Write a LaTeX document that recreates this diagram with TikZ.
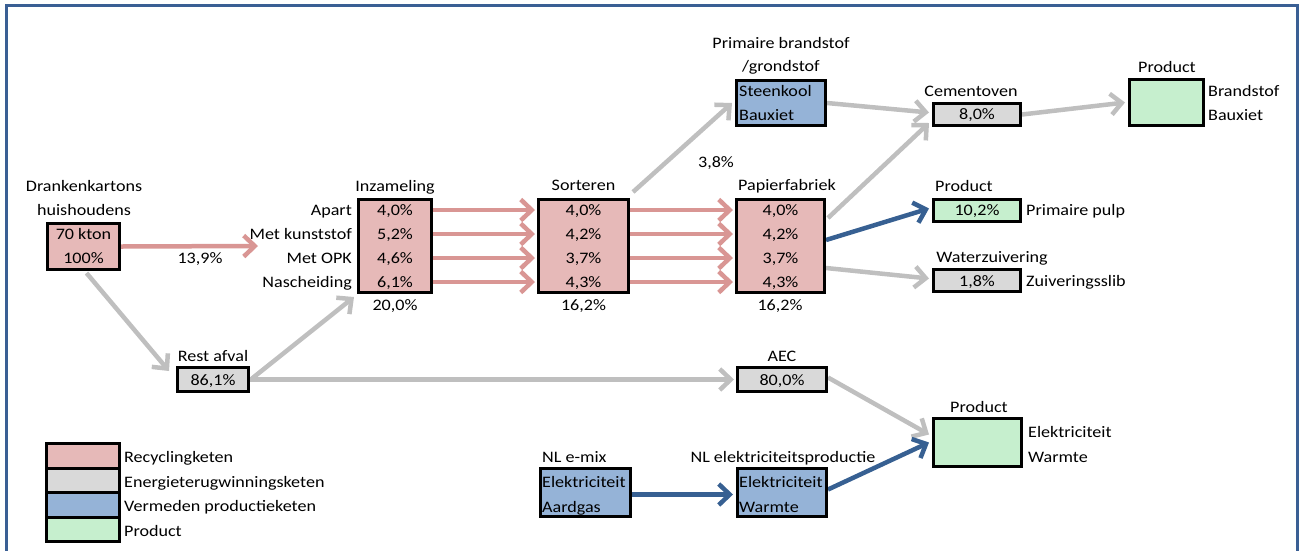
\documentclass[tikz,border=0pt]{standalone}
\usepackage{fontspec}
\setmainfont{Carlito}[FakeStretch=1.13]
\usetikzlibrary{arrows.meta,calc,backgrounds}
\definecolor{redfill}{HTML}{E6B9B8}
\definecolor{grayfill}{HTML}{D9D9D9}
\definecolor{bluefill}{HTML}{95B3D7}
\definecolor{greenfill}{HTML}{C6EFCE}
\definecolor{redline}{HTML}{D99694}
\definecolor{grayline}{HTML}{BFBFBF}
\definecolor{blueline}{HTML}{376092}
\definecolor{framec}{HTML}{3A5F94}
\begin{document}
\begin{tikzpicture}[x=1pt,y=-1pt,
  box/.style={draw=black, line width=3pt, inner sep=0pt, rectangle},
  t/.style={inner sep=0pt, text height=10pt, text depth=0pt, font=\fontsize{16}{18}\selectfont},
  tl/.style={t, anchor=west},
  tr/.style={t, anchor=east},
  arr/.style={line width=4.5pt, -{Straight Barb[length=11pt,width=21pt]}},
  ga/.style={arr, draw=grayline},
  ra/.style={arr, draw=redline},
  ba/.style={arr, draw=blueline},
]
\useasboundingbox (0,0) rectangle (1302,550);
\draw[framec, line width=3pt] (6.7,552) -- (6.7,5.7) -- (1297.3,5.7) -- (1297.3,552);

% Drankenkartons
\node[box, fill=redfill, minimum width=72, minimum height=46] (dk) at (83.5,246.5) {};
\node[t] (dkt1) at (84,186) {Drankenkartons};
\node[t] (dkt2) at (84,210) {huishoudens};
\node[t] (dkv1) at (83.5,234) {70 kton};
\node[t] (dkv2) at (83.5,258) {100\%};
\coordinate (dkend) at (258,246);
\node[t] (l139) at (200,258) {13,9\%};

% Inzameling
\node[box, fill=redfill, minimum width=73, minimum height=93] (inz) at (395,246) {};
\node[t] (inzt) at (395,186) {Inzameling};
\node[t] (inz1) at (395,210) {4,0\%};
\node[t] (inz2) at (395,234) {5,2\%};
\node[t] (inz3) at (395,258) {4,6\%};
\node[t] (inz4) at (395,282) {6,1\%};
\node[tr] (inzl1) at (352,210) {Apart};
\node[tr] (inzl2) at (352,234) {Met kunststof};
\node[tr] (inzl3) at (352,258) {Met OPK};
\node[tr] (inzl4) at (352,282) {Nascheiding};
\node[t] (inzs) at (395,305) {20,0\%};

% Sorteren
\node[box, fill=redfill, minimum width=90, minimum height=93] (sort) at (583.5,246) {};
\node[t] (sortt) at (583.5,185) {Sorteren};
\node[t] (sort1) at (583.5,210) {4,0\%};
\node[t] (sort2) at (583.5,234) {4,2\%};
\node[t] (sort3) at (583.5,258) {3,7\%};
\node[t] (sort4) at (583.5,282) {4,3\%};
\node[t] (sorts) at (583.5,305) {16,2\%};

% Papierfabriek
\node[box, fill=redfill, minimum width=88, minimum height=93] (pap) at (780.5,246) {};
\node[t] (papt) at (787,185) {Papierfabriek};
\node[t] (pap1) at (780.5,210) {4,0\%};
\node[t] (pap2) at (780.5,234) {4,2\%};
\node[t] (pap3) at (780.5,258) {3,7\%};
\node[t] (pap4) at (780.5,282) {4,3\%};
\node[t] (paps) at (780,305) {16,2\%};

% Primaire brandstof
\node[box, fill=bluefill, minimum width=89, minimum height=45] (steen) at (781,103) {};
\node[t] (steent1) at (781,43) {Primaire brandstof};
\node[t] (steent2) at (781,66) {/grondstof};
\node[tl] (steen1) at (739,91) {Steenkool};
\node[tl] (steen2) at (739,115) {Bauxiet};
\node[t] (l38) at (716,162) {3,8\%};

% Cementoven
\node[box, fill=grayfill, minimum width=87, minimum height=22] (cem) at (977,114.5) {};
\node[t] (cemt) at (971,91) {Cementoven};
\node[t] (cem1) at (977,114) {8,0\%};

% Product brandstof
\node[box, fill=greenfill, minimum width=74, minimum height=46] (prodB) at (1166.5,102.5) {};
\node[t] (prodBt) at (1167,67) {Product};
\node[tl] (prodB1) at (1208,91) {Brandstof};
\node[tl] (prodB2) at (1208,115) {Bauxiet};

% Product pulp
\node[box, fill=greenfill, minimum width=87, minimum height=22] (pulp) at (977,210.5) {};
\node[t] (pulpt) at (964,186) {Product};
\node[t] (pulp1) at (977,210) {10,2\%};
\node[tl] (pulp2) at (1026,210) {Primaire pulp};

% Waterzuivering
\node[box, fill=grayfill, minimum width=87, minimum height=22] (wz) at (977,280.5) {};
\node[t] (wzt) at (992,257) {Waterzuivering};
\node[t] (wz1) at (977,281) {1,8\%};
\node[tl] (wz2) at (1026,281) {Zuiveringsslib};

% Rest afval
\node[box, fill=grayfill, minimum width=71, minimum height=24] (rest) at (213,379.5) {};
\node[t] (restt) at (213,356) {Rest afval};
\node[t] (rest1) at (213,380) {86,1\%};

% AEC
\node[box, fill=grayfill, minimum width=89, minimum height=24] (aec) at (782,379.5) {};
\node[t] (aect) at (782,356) {AEC};
\node[t] (aec1) at (782,380) {80,0\%};

% Product elektriciteit
\node[box, fill=greenfill, minimum width=88, minimum height=48] (prodE) at (977.5,442.5) {};
\node[t] (prodEt) at (979,407) {Product};
\node[tl] (prodE1) at (1028,432) {Elektriciteit};
\node[tl] (prodE2) at (1028,457) {Warmte};

% NL e-mix
\node[box, fill=bluefill, minimum width=90, minimum height=48] (emix) at (585.5,492.5) {};
\node[tl] (emixt) at (542,457) {NL e-mix};
\node[tl] (emix1) at (542,482) {Elektriciteit};
\node[tl] (emix2) at (542,507) {Aardgas};

% NL elektriciteitsproductie
\node[box, fill=bluefill, minimum width=89, minimum height=48] (nlep) at (782,492.5) {};
\node[t] (nlept) at (783,457) {NL elektriciteitsproductie};
\node[tl] (nlep1) at (739,482) {Elektriciteit};
\node[tl] (nlep2) at (739,507) {Warmte};

% Legend
\node[box, fill=redfill, minimum width=73, minimum height=24.5] (lg1) at (83,455.75) {};
\node[box, fill=grayfill, minimum width=73, minimum height=24.5] (lg2) at (83,480.25) {};
\node[box, fill=bluefill, minimum width=73, minimum height=24.5] (lg3) at (83,504.75) {};
\node[box, fill=greenfill, minimum width=73, minimum height=24.5] (lg4) at (83,529.25) {};
\node[tl] (lgt1) at (124,457) {Recyclingketen};
\node[tl] (lgt2) at (124,482) {Energieterugwinningsketen};
\node[tl] (lgt3) at (124,506) {Vermeden productieketen};
\node[tl] (lgt4) at (124,531) {Product};

\begin{scope}[on background layer]
\draw[ra] (dk.east) -- (dkend);
\draw[ga] ($(dk.south)+(3,2)$) -- ($(rest.north west)+(-7,5)$);
\draw[ga] ($(rest.east)+(2,-1)$) -- ($(inz.south west)+(-3,3)$);
\draw[ga] (rest.east) -- ($(aec.west)+(-2,0)$);
\foreach \i in {1,2,3,4}{
  \draw[ra] (inz.east |- inz\i) -- ($(sort.west |- sort\i)+(-2,0)$);
  \draw[ra] (sort.east |- sort\i) -- ($(pap.west |- pap\i)+(-2,0)$);
}
\draw[ga] ($(sort.north east)+(3,-6)$) -- ($(steen.west)+(-3,0)$);
\draw[ga] (steen.east) -- ($(cem.west)+(-3,-2)$);
\draw[ga] ($(pap.north east)+(2,20)$) -- ($(cem.south west)+(-3,-4)$);
\draw[ga] (cem.east) -- ($(prodB.west)+(-3,0)$);
\draw[ba] ($(pap.east)+(0,-6)$) -- ($(pulp.west)+(-3,-2)$);
\draw[ga] ($(pap.east)+(0,22)$) -- ($(wz.west)+(-3,-2)$);
\draw[ga] ($(aec.east)+(0,-2)$) -- ($(prodE.west)+(-3,-8)$);
\draw[ba] ($(emix.east)+(0,2)$) -- ($(nlep.west)+(-3,2)$);
\draw[ba] ($(nlep.east)+(0,-3)$) -- ($(prodE.west)+(-3,0)$);
\end{scope}
\end{tikzpicture}
\end{document}
